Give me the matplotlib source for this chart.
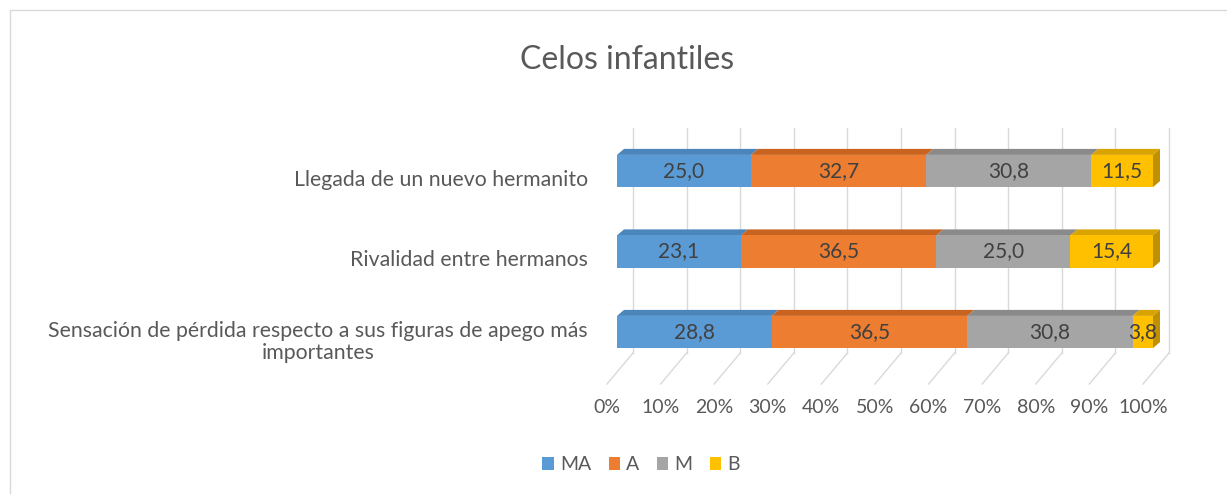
import numpy as np
import matplotlib
matplotlib.use("Agg")
import matplotlib.pyplot as plt
from matplotlib.patches import Patch, Polygon, Rectangle
from matplotlib.transforms import ScaledTranslation

plt.rcParams['font.family'] = ['Lato', 'DejaVu Sans']

# data (bottom to top, as drawn)
categories = [
    "Sensación de pérdida respecto a sus figuras de apego más\nimportantes",
    "Rivalidad entre hermanos",
    "Llegada de un nuevo hermanito",
]
series_names = ["MA", "A", "M", "B"]
ma = [28.8, 23.1, 25.0]
a = [36.5, 36.5, 32.7]
m = [30.8, 25.0, 30.8]
b = [3.8, 15.4, 11.5]
x_ticks = [0, 10, 20, 30, 40, 50, 60, 70, 80, 90, 100]

front_colors = ["#5B9BD5", "#ED7D31", "#A5A5A5", "#FFC000"]
top_colors = ["#4A85BC", "#C8641F", "#8A8A8A", "#D9A300"]
text_color = "#595959"
grid_color = "#D9D9D9"

W, H, DPI = 1227, 494, 100
fig = plt.figure(figsize=(W / DPI, H / DPI), dpi=DPI)

# front plane of the bars, in pixels
left_px, right_px = 617, 1153
top_px, bot_px = 140, 378
y0_px, px_per_y = 332, 80.5
px_per_x = (right_px - left_px) / 100

ax = fig.add_axes([left_px / W, (H - bot_px) / H,
                   (right_px - left_px) / W, (bot_px - top_px) / H])
ax.set_xlim(0, 100)
ax.set_ylim((y0_px - bot_px) / px_per_y, (y0_px - top_px) / px_per_y)
for s in ax.spines.values():
    s.set_visible(False)

def dx(px):
    return px / px_per_x

def dy(px):
    return px / px_per_y

# back wall and floor grid
wall_top = dy(y0_px - 128)
wall_bot = dy(y0_px - 353)
floor_front = dy(y0_px - 384)
for t in x_ticks:
    ax.plot([t + dx(16), t + dx(16)], [wall_bot, wall_top], color=grid_color,
            lw=1, zorder=0, clip_on=False)
    ax.plot([t + dx(16), t - dx(10)], [wall_bot, floor_front], color=grid_color,
            lw=1, zorder=0, clip_on=False)

# 100% stacked bars with a little depth
values = np.array([ma, a, m, b])
totals = values.sum(axis=0)
pct = values / totals * 100
ypos = np.arange(len(categories))
bh = 0.4
ddx, ddy = dx(7), dy(6)
lefts = np.zeros(len(categories))
for i, name in enumerate(series_names):
    for j, y in enumerate(ypos):
        l, w = lefts[j], pct[i, j]
        top = [(l, y + bh / 2), (l + w, y + bh / 2),
               (l + w + ddx, y + bh / 2 + ddy), (l + ddx, y + bh / 2 + ddy)]
        ax.add_patch(Polygon(top, closed=True, fc=top_colors[i], ec="none",
                             zorder=2, clip_on=False))
        if i == len(series_names) - 1:
            side = [(l + w, y - bh / 2), (l + w + ddx, y - bh / 2 + ddy),
                    (l + w + ddx, y + bh / 2 + ddy), (l + w, y + bh / 2)]
            ax.add_patch(Polygon(side, closed=True, fc="#BF9000", ec="none",
                                 zorder=2, clip_on=False))
    bars = ax.barh(ypos, pct[i], left=lefts, height=bh, color=front_colors[i],
                   zorder=3, label=name)
    ax.bar_label(bars, labels=[f"{v:.1f}".replace(".", ",") for v in values[i]],
                 label_type="center", color="#404040", fontsize=15, zorder=4)
    lefts += pct[i]

# ticks
ax.set_xticks(x_ticks)
ax.set_xticklabels([f"{t}%" for t in x_ticks], color=text_color, fontsize=14)
ax.set_yticks(ypos)
ax.set_yticklabels(categories, color=text_color, fontsize=15.3,
                   multialignment="center", linespacing=1.1)
ax.tick_params(axis="both", length=0)
ax.tick_params(axis="x", pad=15)
ax.tick_params(axis="y", pad=21)
for lab in ax.get_xticklabels():
    lab.set_transform(lab.get_transform() + ScaledTranslation(-10 / DPI, 0, fig.dpi_scale_trans))
for lab in ax.get_yticklabels():
    lab.set_transform(lab.get_transform() + ScaledTranslation(0, -7 / DPI, fig.dpi_scale_trans))

fig.text(627 / W, 1 - 60 / H, "Celos infantiles", ha="center", va="center",
         fontsize=23, color=text_color)

handles = [Patch(facecolor=c, label=n) for c, n in zip(front_colors, series_names)]
fig.legend(handles=handles, loc="center", bbox_to_anchor=(641 / W, 1 - 465 / H),
           ncol=4, frameon=False, fontsize=14, labelcolor=text_color,
           handlelength=0.6, handleheight=0.6, handletextpad=0.3,
           columnspacing=0.9)

# chart border
fig.patches.append(Rectangle((10 / W, -0.01), 1.02, 1 - 10 / H + 0.01,
                             transform=fig.transFigure, fill=False,
                             ec=grid_color, lw=1))

fig.savefig("out.png", dpi=DPI)
